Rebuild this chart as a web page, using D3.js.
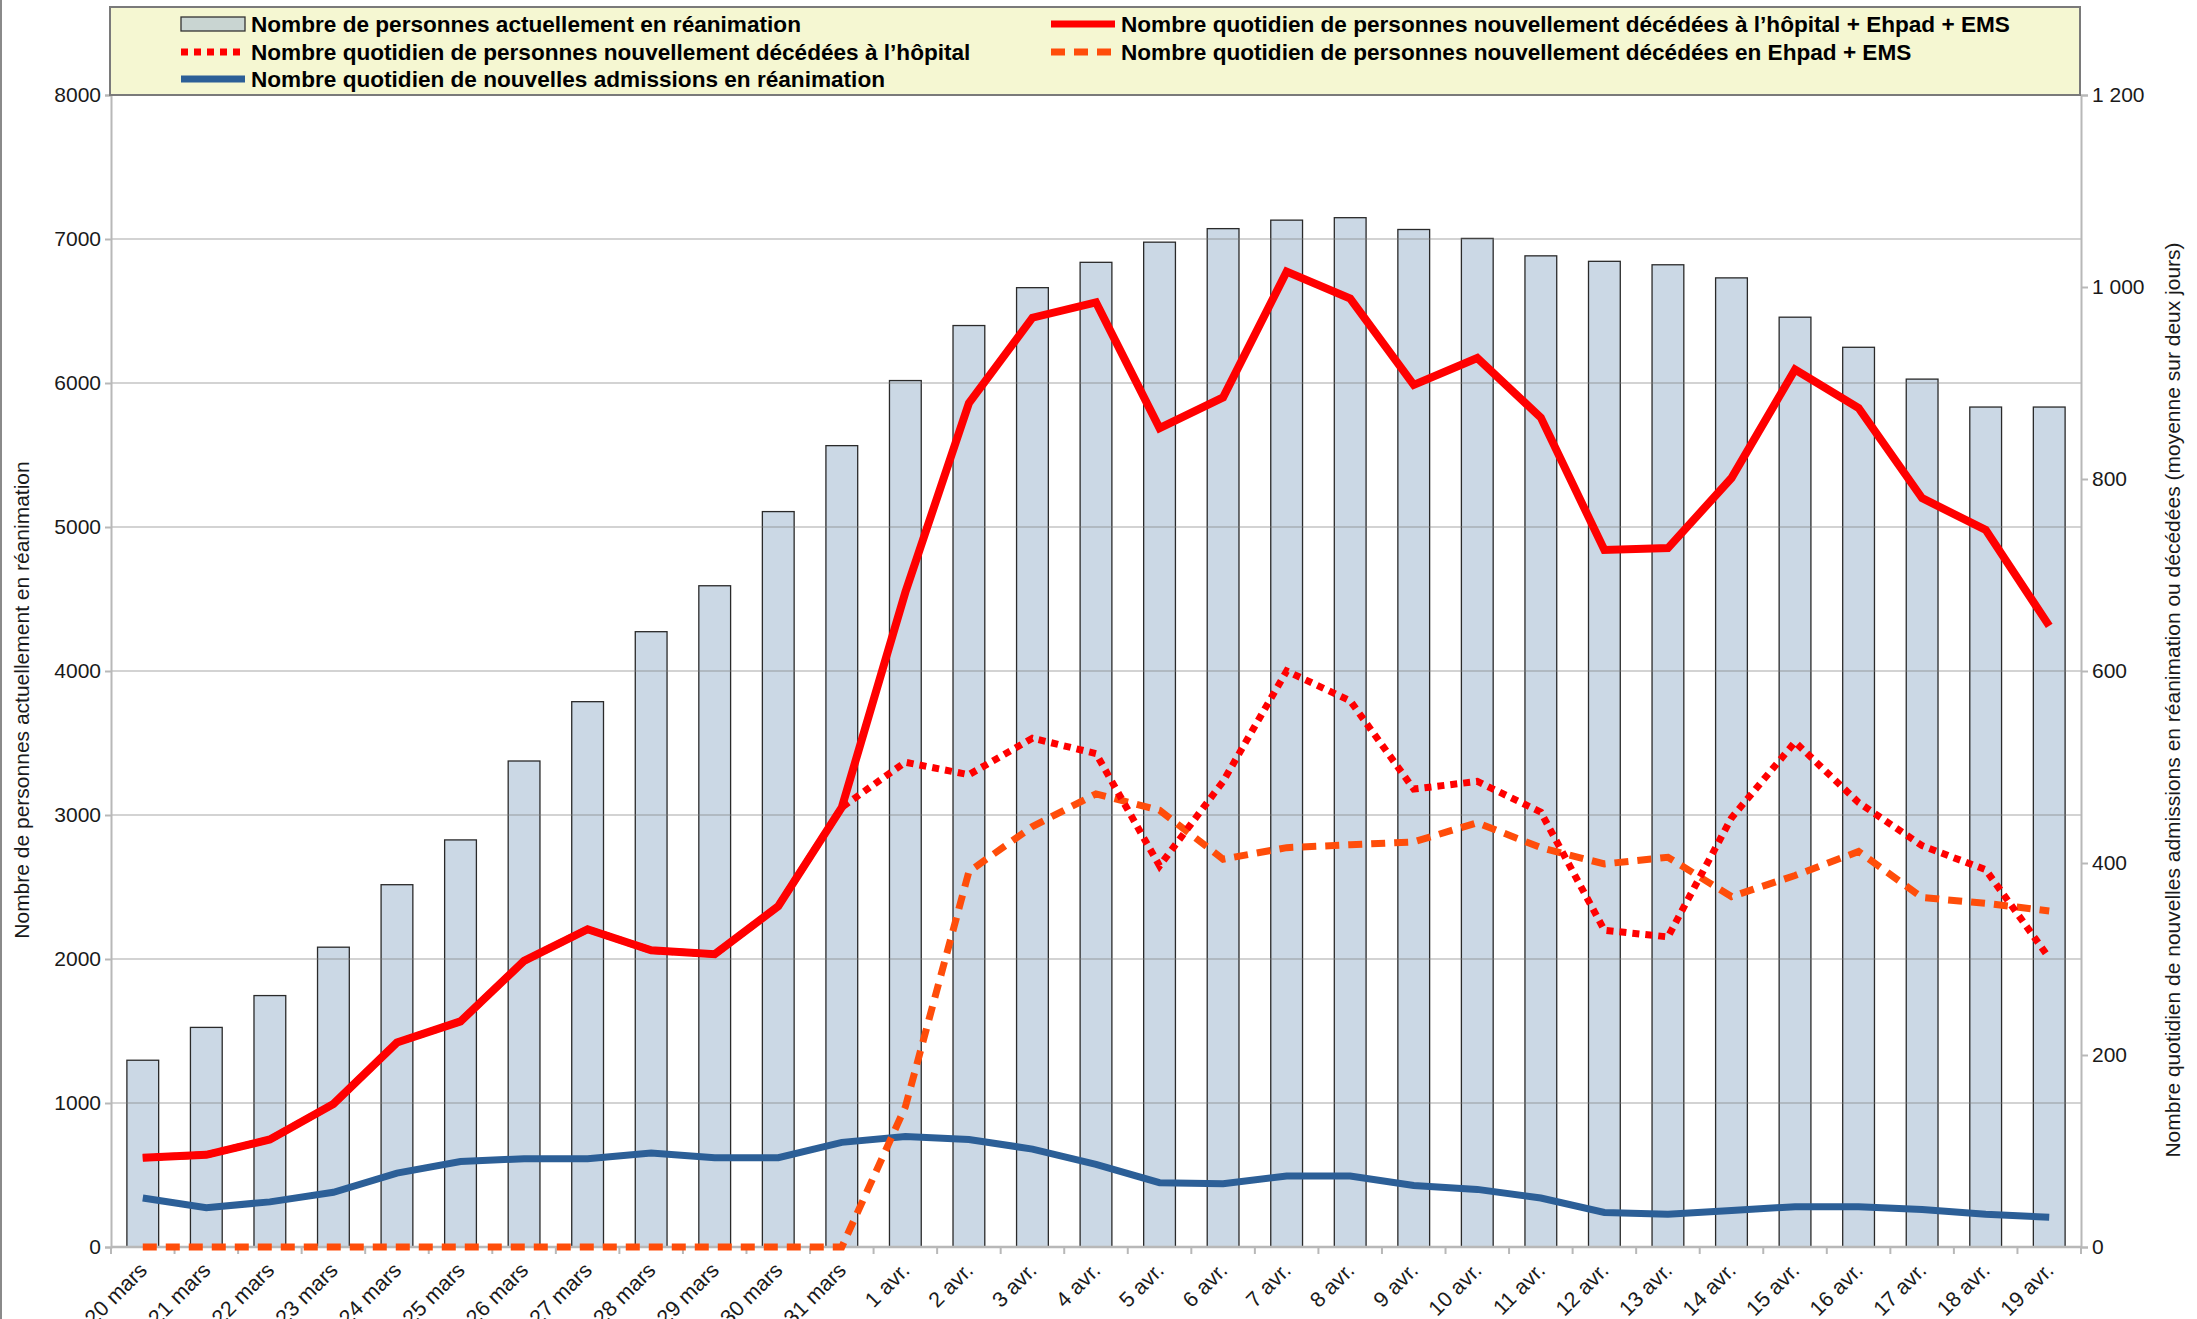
<!DOCTYPE html>
<html>
<head>
<meta charset="utf-8">
<script src="https://cdn.jsdelivr.net/npm/d3@7"></script>
<style>
  html, body { margin: 0; padding: 0; background: #fff; }
  svg { display: block; }
  text { font-family: "Liberation Sans", Arial, sans-serif; }
</style>
</head>
<body>
<svg id="chart" width="2197" height="1319"></svg>
<script>
const categories = ["20 mars","21 mars","22 mars","23 mars","24 mars","25 mars","26 mars","27 mars","28 mars","29 mars","30 mars","31 mars",
  "1 avr.","2 avr.","3 avr.","4 avr.","5 avr.","6 avr.","7 avr.","8 avr.","9 avr.","10 avr.","11 avr.","12 avr.","13 avr.","14 avr.","15 avr.","16 avr.","17 avr.","18 avr.","19 avr."];

// Nombre de personnes actuellement en réanimation (left axis)
const reaCurrent = [1297,1525,1746,2082,2516,2827,3375,3787,4273,4592,5107,5565,
  6017,6399,6662,6838,6978,7072,7131,7148,7066,7004,6883,6845,6821,6730,6457,6248,6027,5833,5833];

// Right axis series
const deathsTotal = [93,96,112,149,213,235,298,331,309,305,355,458,
  682,879,968,984,853,885,1016,988,898,926,864,726,728,801,914,874,780,747,647];
const deathsHospital = [93,96,112,149,213,235,298,331,309,305,355,458,
  505,492,530,514,397,485,600,569,477,485,453,330,323,447,526,463,418,393,301];
const deathsEhpad = [0,0,0,0,0,0,0,0,0,0,0,0,
  146,391,438,472,455,404,416,419,422,442,416,399,406,365,387,412,364,358,350];
const admissions = [51,41,47,57,77,89,92,92,98,93,93,109,
  115,112,102,86,67,66,74,74,64,60,51,36,34,38,42,42,39,34,31];

const leftTicks = [0,1000,2000,3000,4000,5000,6000,7000,8000];
const rightTicks = [0,200,400,600,800,1000,1200];

const legendLabels = [
  "Nombre de personnes actuellement en réanimation",
  "Nombre quotidien de personnes nouvellement décédées à l\u2019hôpital + Ehpad + EMS",
  "Nombre quotidien de personnes nouvellement décédées à l\u2019hôpital",
  "Nombre quotidien de personnes nouvellement décédées en Ehpad + EMS",
  "Nombre quotidien de nouvelles admissions en réanimation"
];

const svg = d3.select("#chart");
const L = 111, R = 2081, T = 95, B = 1247;

const x = d3.scaleBand().domain(categories).range([L, R]).paddingInner(0.5).paddingOuter(0.25);
const yL = d3.scaleLinear().domain([0, 8000]).range([B, T]);
const yR = d3.scaleLinear().domain([0, 1200]).range([B, T]);
const cx = d => x(d) + x.bandwidth() / 2;

// frame line on far left
svg.append("line").attr("x1", 1).attr("x2", 1).attr("y1", 0).attr("y2", 1319)
  .attr("stroke", "#8a8a8a").attr("stroke-width", 2);

// bars
svg.append("g").selectAll("rect").data(categories).join("rect")
  .attr("x", d => x(d))
  .attr("y", (d, i) => yL(reaCurrent[i]))
  .attr("width", x.bandwidth())
  .attr("height", (d, i) => B - yL(reaCurrent[i]))
  .attr("fill", "#cbd8e5")
  .attr("stroke", "#2a2a2a")
  .attr("stroke-width", 1.3);

// gridlines (drawn over bars, semi-transparent)
svg.append("g").selectAll("line").data(leftTicks.filter(t => t > 0)).join("line")
  .attr("x1", L).attr("x2", R)
  .attr("y1", d => yL(d)).attr("y2", d => yL(d))
  .attr("stroke", "rgba(120,120,120,0.33)").attr("stroke-width", 2);

// left axis
const gL = svg.append("g").attr("transform", `translate(${L},0)`)
  .call(d3.axisLeft(yL).tickValues(leftTicks).tickSize(6).tickPadding(4).tickFormat(d3.format("d")));
gL.select(".domain").attr("stroke", "#b8b8b8").attr("stroke-width", 2);
gL.selectAll(".tick line").attr("stroke", "#b8b8b8").attr("stroke-width", 2);
gL.selectAll(".tick text").attr("font-size", 21).attr("fill", "#1a1a1a")
  .attr("font-family", "'Liberation Sans', Arial, sans-serif");

// right axis
const frFmt = v => d3.format(",")(v).replace(/,/g, " ");
const gR = svg.append("g").attr("transform", `translate(${R},0)`)
  .call(d3.axisRight(yR).tickValues(rightTicks).tickSize(7).tickPadding(4).tickFormat(frFmt));
gR.select(".domain").attr("stroke", "#b8b8b8").attr("stroke-width", 2);
gR.selectAll(".tick line").attr("stroke", "#b8b8b8").attr("stroke-width", 2);
gR.selectAll(".tick text").attr("font-size", 21).attr("fill", "#1a1a1a")
  .attr("font-family", "'Liberation Sans', Arial, sans-serif");

// bottom axis
const gB = svg.append("g").attr("transform", `translate(0,${B})`);
gB.append("line").attr("x1", L).attr("x2", R).attr("y1", 0).attr("y2", 0)
  .attr("stroke", "#b8b8b8").attr("stroke-width", 2.5);
const step = x.step();
gB.selectAll("line.tk").data(d3.range(categories.length + 1)).join("line")
  .attr("class", "tk")
  .attr("x1", i => L + i * step).attr("x2", i => L + i * step)
  .attr("y1", 0).attr("y2", 7)
  .attr("stroke", "#b8b8b8").attr("stroke-width", 2);
gB.selectAll("text").data(categories).join("text")
  .attr("transform", d => `translate(${cx(d) - 5},${14}) rotate(-45)`)
  .attr("text-anchor", "end")
  .attr("dy", "0.7em")
  .attr("font-size", 21.5)
  .attr("fill", "#1a1a1a")
  .text(d => d);

// lines
function drawLine(values, color, width, dash) {
  const line = d3.line().x((v, i) => cx(categories[i])).y(v => yR(v));
  const p = svg.append("path").datum(values)
    .attr("d", line)
    .attr("fill", "none")
    .attr("stroke", color)
    .attr("stroke-width", width)
    .attr("stroke-linejoin", "miter");
  if (dash) p.attr("stroke-dasharray", dash);
  return p;
}
drawLine(admissions, "#2c5f97", 7);
drawLine(deathsEhpad, "#ff4d0a", 7, "14,9");
drawLine(deathsHospital, "#ff0000", 7, "7,6");
drawLine(deathsTotal, "#ff0000", 8);

// axis titles
svg.append("text")
  .attr("transform", `translate(29,700) rotate(-90)`)
  .attr("text-anchor", "middle")
  .attr("font-size", 21).attr("fill", "#1a1a1a")
  .text("Nombre de personnes actuellement en réanimation");
svg.append("text")
  .attr("transform", `translate(2180,700) rotate(-90)`)
  .attr("text-anchor", "middle")
  .attr("font-size", 21).attr("fill", "#1a1a1a")
  .text("Nombre quotidien de nouvelles admissions en réanimation ou décédées (moyenne sur deux jours)");

// legend
const lg = svg.append("g");
lg.append("rect").attr("x", 110).attr("y", 7).attr("width", 1970).attr("height", 88)
  .attr("fill", "#f5f7d2").attr("stroke", "#7a7a7a").attr("stroke-width", 2);
const items = [
  {label: legendLabels[0], type: "bar", x: 181, y: 24},
  {label: legendLabels[1], type: "line", color: "#ff0000", dash: null, w: 7, x: 1051, y: 24},
  {label: legendLabels[2], type: "line", color: "#ff0000", dash: "7,6", w: 7, x: 181, y: 52},
  {label: legendLabels[3], type: "line", color: "#ff4d0a", dash: "14,9", w: 7, x: 1051, y: 52},
  {label: legendLabels[4], type: "line", color: "#2c5f97", dash: null, w: 7, x: 181, y: 79}
];
items.forEach(it => {
  if (it.type === "bar") {
    lg.append("rect").attr("x", it.x).attr("y", it.y - 7).attr("width", 64).attr("height", 14)
      .attr("fill", "#c9d5d2").attr("stroke", "#333").attr("stroke-width", 1.3);
  } else {
    const ln = lg.append("line").attr("x1", it.x).attr("x2", it.x + 64)
      .attr("y1", it.y).attr("y2", it.y)
      .attr("stroke", it.color).attr("stroke-width", it.w);
    if (it.dash) ln.attr("stroke-dasharray", it.dash);
  }
  lg.append("text").attr("x", it.x + 70).attr("y", it.y).attr("dy", "0.36em")
    .attr("font-size", 22.6).attr("font-weight", "bold").attr("fill", "#000")
    .text(it.label);
});
</script>
</body>
</html>
